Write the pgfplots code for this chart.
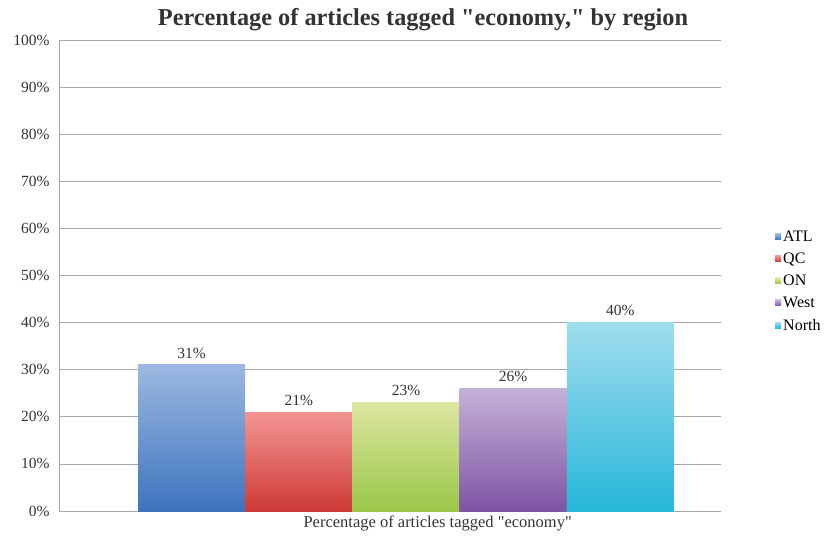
\documentclass[border=0pt]{standalone}
\usepackage{pgfplots}
\pgfplotsset{compat=1.18}
\usepackage{fontspec}
\setmainfont{Liberation Serif}
\definecolor{atlT}{HTML}{9CB8E1}\definecolor{atlB}{HTML}{3D74BE}
\definecolor{qcT}{HTML}{F39593}\definecolor{qcB}{HTML}{CE3A36}
\definecolor{onT}{HTML}{DCE6A0}\definecolor{onB}{HTML}{9AC748}
\definecolor{weT}{HTML}{C5B1D8}\definecolor{weB}{HTML}{7E54A4}
\definecolor{noT}{HTML}{A0DDEE}\definecolor{noB}{HTML}{26B7DA}
\definecolor{gridc}{HTML}{A6A6A6}
\definecolor{txt}{HTML}{333333}
\begin{document}
\begin{tikzpicture}[x=1pt,y=1pt]
\useasboundingbox (0,0) rectangle (824,536);
\begin{axis}[
  at={(59pt,25pt)}, anchor=south west,
  scale only axis, width=662pt, height=471pt,
  xmin=-0.238, xmax=5.939, ymin=0, ymax=100,
  ybar, bar width=107pt, bar shift=0pt,
  ytick={0,10,...,100},
  yticklabel={\pgfmathprintnumber{\tick}\%},
  /pgf/number format/assume math mode=true,
  ymajorgrids, grid style={gridc, line width=0.8pt},
  axis line style={gridc, line width=0.8pt},
  axis x line*=bottom, axis y line*=left,
  major tick length=4pt,
  tick style={gridc, line width=0.8pt},
  xtick={3.295}, xticklabels={Percentage of articles tagged \textquotedbl economy\textquotedbl},
  x tick style={draw=none},
  tick label style={font=\fontsize{15.5}{17}\selectfont, text=txt},
  xticklabel style={yshift=3pt, font=\fontsize{16.5}{18}\selectfont},
  yticklabel style={xshift=-6pt},
  nodes near coords={\pgfmathprintnumber{\pgfplotspointmeta}\%},
  nodes near coords style={font=\fontsize{15.5}{17}\selectfont, text=txt, /pgf/number format/assume math mode=true, yshift=3pt},
  legend style={at={(1.0816,0.488)}, anchor=west, draw=none, fill=none,
    font=\fontsize{16}{18}\selectfont, row sep=6pt, inner sep=0pt},
  legend image code/.code={\fill[#1] (0pt,-3pt) rectangle (6pt,3pt);},
  legend cell align=left,
  title={\bfseries Percentage of articles tagged \textquotedbl economy,\textquotedbl{} by region},
  title style={font=\fontsize{24.3}{26}\selectfont, text=txt, yshift=0pt, xshift=33pt},
  clip=false,
]
\addplot[draw=none, top color=atlT, bottom color=atlB, fill=atlB!80!white] coordinates {(1,31)};
\addlegendentry{ATL}
\addplot[draw=none, top color=qcT, bottom color=qcB, fill=qcB!80!white] coordinates {(2,21)};
\addlegendentry{QC}
\addplot[draw=none, top color=onT, bottom color=onB, fill=onB!85!white] coordinates {(3,23)};
\addlegendentry{ON}
\addplot[draw=none, top color=weT, bottom color=weB, fill=weB!80!white] coordinates {(4,26)};
\addlegendentry{West}
\addplot[draw=none, top color=noT, bottom color=noB, fill=noB!80!white] coordinates {(5,40)};
\addlegendentry{North}
\end{axis}
\end{tikzpicture}
\end{document}
